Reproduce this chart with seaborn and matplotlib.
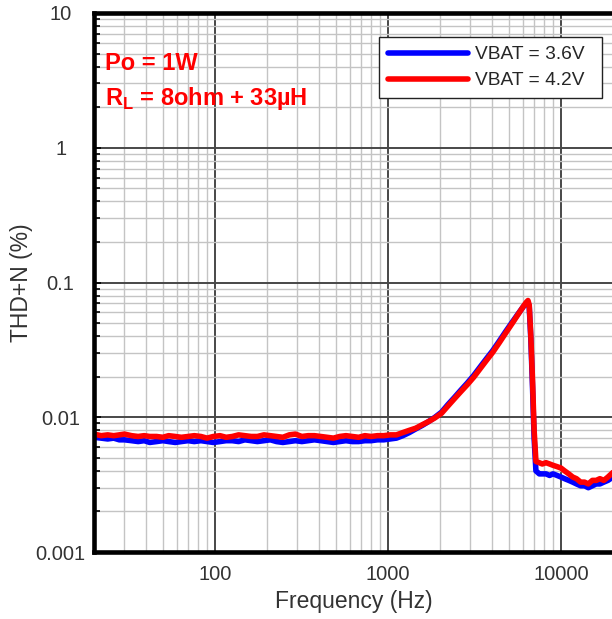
import matplotlib
matplotlib.use("Agg")
import matplotlib.pyplot as plt
from matplotlib.ticker import LogLocator, NullFormatter, FixedLocator, FixedFormatter
import seaborn as sns
import pandas as pd

# Frequency points (Hz), shared by both supply voltages
freq_hz = [
    20, 22, 24, 26, 28, 30, 33, 36, 39, 42, 46, 50, 54, 59, 64, 70, 76, 83, 90, 98,
    107, 116, 126, 137, 149, 162, 176, 192, 209, 227, 247, 269, 292, 318, 346, 376,
    409, 445, 484, 526, 572, 622, 677, 736, 800, 870, 946, 1030,
    1120, 1220, 1330, 1450, 1580, 1720, 1870, 2040, 2220, 2420, 2640, 2870, 3130,
    3410, 3710, 4040, 4400, 4790, 5220, 5680, 6050, 6300, 6450, 6560, 6700, 6850,
    7000, 7170,
    7500, 7800, 8200, 8600, 9000, 9500, 10000, 10500, 11100, 11700, 12300, 13000,
    13700, 14400, 15200, 16000, 16800, 17700, 18700, 20000,
]

# THD+N (%) at VBAT = 3.6 V
thdn_36v = [
    0.0071, 0.0070, 0.0069, 0.0070, 0.0068, 0.0068, 0.0067, 0.0066, 0.0067, 0.0065,
    0.0066, 0.0067, 0.0066, 0.0065, 0.0066, 0.0067, 0.0066, 0.0067, 0.0066, 0.0065,
    0.0066, 0.0067, 0.0067, 0.0066, 0.0068, 0.0067, 0.0066, 0.0067, 0.0068, 0.0066,
    0.0065, 0.0066, 0.0067, 0.0066, 0.0067, 0.0068, 0.0067, 0.0066, 0.0065, 0.0066,
    0.0067, 0.0066, 0.0066, 0.0067, 0.0067, 0.0068, 0.0068, 0.0069,
    0.0070, 0.0073, 0.0077, 0.0082, 0.0087, 0.0093, 0.0100, 0.0109, 0.0124, 0.0140,
    0.0159, 0.0179, 0.0204, 0.0236, 0.0272, 0.0313, 0.0367, 0.0432, 0.0506, 0.0590,
    0.0660, 0.0700, 0.0715, 0.0660, 0.0380, 0.0170, 0.0070, 0.0040,
    0.0038, 0.0038, 0.0038, 0.0037, 0.0038, 0.0037, 0.0036, 0.0035, 0.0034, 0.0033,
    0.0032, 0.0031, 0.0031, 0.0030, 0.0031, 0.0032, 0.0032, 0.0033, 0.0034, 0.0036,
]

# THD+N (%) at VBAT = 4.2 V
thdn_42v = [
    0.0075, 0.0073, 0.0074, 0.0073, 0.0074, 0.0075, 0.0073, 0.0072, 0.0073, 0.0072,
    0.0072, 0.0071, 0.0073, 0.0072, 0.0071, 0.0072, 0.0073, 0.0072, 0.0070, 0.0072,
    0.0073, 0.0071, 0.0072, 0.0074, 0.0073, 0.0072, 0.0072, 0.0074, 0.0073, 0.0072,
    0.0071, 0.0074, 0.0075, 0.0072, 0.0073, 0.0073, 0.0072, 0.0071, 0.0070, 0.0072,
    0.0073, 0.0072, 0.0071, 0.0073, 0.0072, 0.0073, 0.0073, 0.0074,
    0.0074, 0.0077, 0.0080, 0.0083, 0.0088, 0.0093, 0.0099, 0.0107, 0.0121, 0.0137,
    0.0155, 0.0174, 0.0198, 0.0229, 0.0264, 0.0304, 0.0357, 0.0421, 0.0496, 0.0585,
    0.0661, 0.0712, 0.0735, 0.0680, 0.0400, 0.0190, 0.0080, 0.0047,
    0.0046, 0.0045, 0.0046, 0.0045, 0.0044, 0.0043, 0.0042, 0.0040, 0.0038, 0.0036,
    0.0035, 0.0033, 0.0033, 0.0032, 0.0034, 0.0034, 0.0035, 0.0034, 0.0036, 0.0039,
]

series_names = ["VBAT = 3.6V", "VBAT = 4.2V"]
series_colors = ["#0000FF", "#FF0000"]

x_tick_values = [100, 1000, 10000]
x_tick_labels = ["100", "1000", "10000"]
y_tick_values = [0.001, 0.01, 0.1, 1, 10]
y_tick_labels = ["0.001", "0.01", "0.1", "1", "10"]

df = pd.concat([
    pd.DataFrame({"freq": freq_hz, "thdn": thdn_36v, "series": series_names[0]}),
    pd.DataFrame({"freq": freq_hz, "thdn": thdn_42v, "series": series_names[1]}),
], ignore_index=True)

sns.set_style("white")
plt.rcParams["font.family"] = ["Liberation Sans", "DejaVu Sans"]
plt.rcParams["mathtext.fontset"] = "custom"
plt.rcParams["mathtext.rm"] = "Liberation Sans:bold"
plt.rcParams["mathtext.bf"] = "Liberation Sans:bold"

fig = plt.figure(figsize=(6.12, 6.19), dpi=100)
ax = fig.add_axes([94 / 612, 1 - 552 / 619, 519 / 612, 539 / 619])

sns.lineplot(
    data=df, x="freq", y="thdn", hue="series", hue_order=series_names,
    palette=series_colors, estimator=None, sort=False, linewidth=4.0, ax=ax,
)

ax.set_xscale("log")
ax.set_yscale("log")
ax.set_xlim(20, 20000)
ax.set_ylim(0.001, 10)

# Decade and sub-decade grid
ax.xaxis.set_major_locator(FixedLocator(x_tick_values))
ax.xaxis.set_major_formatter(FixedFormatter(x_tick_labels))
ax.xaxis.set_minor_locator(LogLocator(base=10, subs=range(2, 10), numticks=20))
ax.xaxis.set_minor_formatter(NullFormatter())
ax.yaxis.set_major_locator(FixedLocator(y_tick_values))
ax.yaxis.set_major_formatter(FixedFormatter(y_tick_labels))
ax.yaxis.set_minor_locator(LogLocator(base=10, subs=range(2, 10), numticks=20))
ax.yaxis.set_minor_formatter(NullFormatter())

ax.grid(which="major", color="#484848", linewidth=1.4)
ax.grid(which="minor", color="#c4c4c4", linewidth=1.0)
ax.set_axisbelow(True)

ax.tick_params(axis="both", which="major", labelsize=14.5, labelcolor="#333333",
               direction="in", length=5, width=1.2, color="black")
ax.tick_params(axis="both", which="minor", direction="in", length=4, width=1.2,
               color="black")
ax.tick_params(axis="x", which="both", bottom=False, pad=9)
ax.tick_params(axis="y", which="both", left=True)
ax.tick_params(axis="y", which="major", pad=24)
for lbl in ax.yaxis.get_majorticklabels():
    lbl.set_horizontalalignment("center")

for side in ["left", "bottom", "top"]:
    ax.spines[side].set_visible(True)
    ax.spines[side].set_color("black")
    ax.spines[side].set_linewidth(3.3)
ax.spines["right"].set_visible(False)

ax.set_xlabel("Frequency (Hz)", fontsize=16.5, color="#333333")
ax.set_ylabel("THD+N (%)", fontsize=16.5, color="#333333")
ax.xaxis.set_label_coords(0.5, -0.07)
ax.yaxis.set_label_coords(-0.118, 0.5)

# Legend box spans a fixed width; rows stay left-aligned inside it
leg = ax.legend(
    loc="upper left", bbox_to_anchor=(0.549, 0.955, 0.430, 0.0), mode="expand",
    fontsize=13.8, frameon=True, fancybox=False, edgecolor="#222222",
    framealpha=1, handlelength=4.2, handletextpad=0.35, borderpad=0.45,
    labelspacing=0.45, borderaxespad=0,
)
leg.get_frame().set_linewidth(1.0)
for line in leg.get_lines():
    line.set_linewidth(4.0)

ax.text(0.021, 0.907, "Po = 1W", transform=ax.transAxes, color="#FF0000",
        fontsize=17, fontweight="bold", va="center", ha="left")
ax.text(0.021, 0.842, r"R$_{\mathbf{L}}$ = 8ohm + 33µH", transform=ax.transAxes,
        color="#FF0000", fontsize=17, fontweight="bold", va="center", ha="left")

fig.savefig("out.png", dpi=100)
